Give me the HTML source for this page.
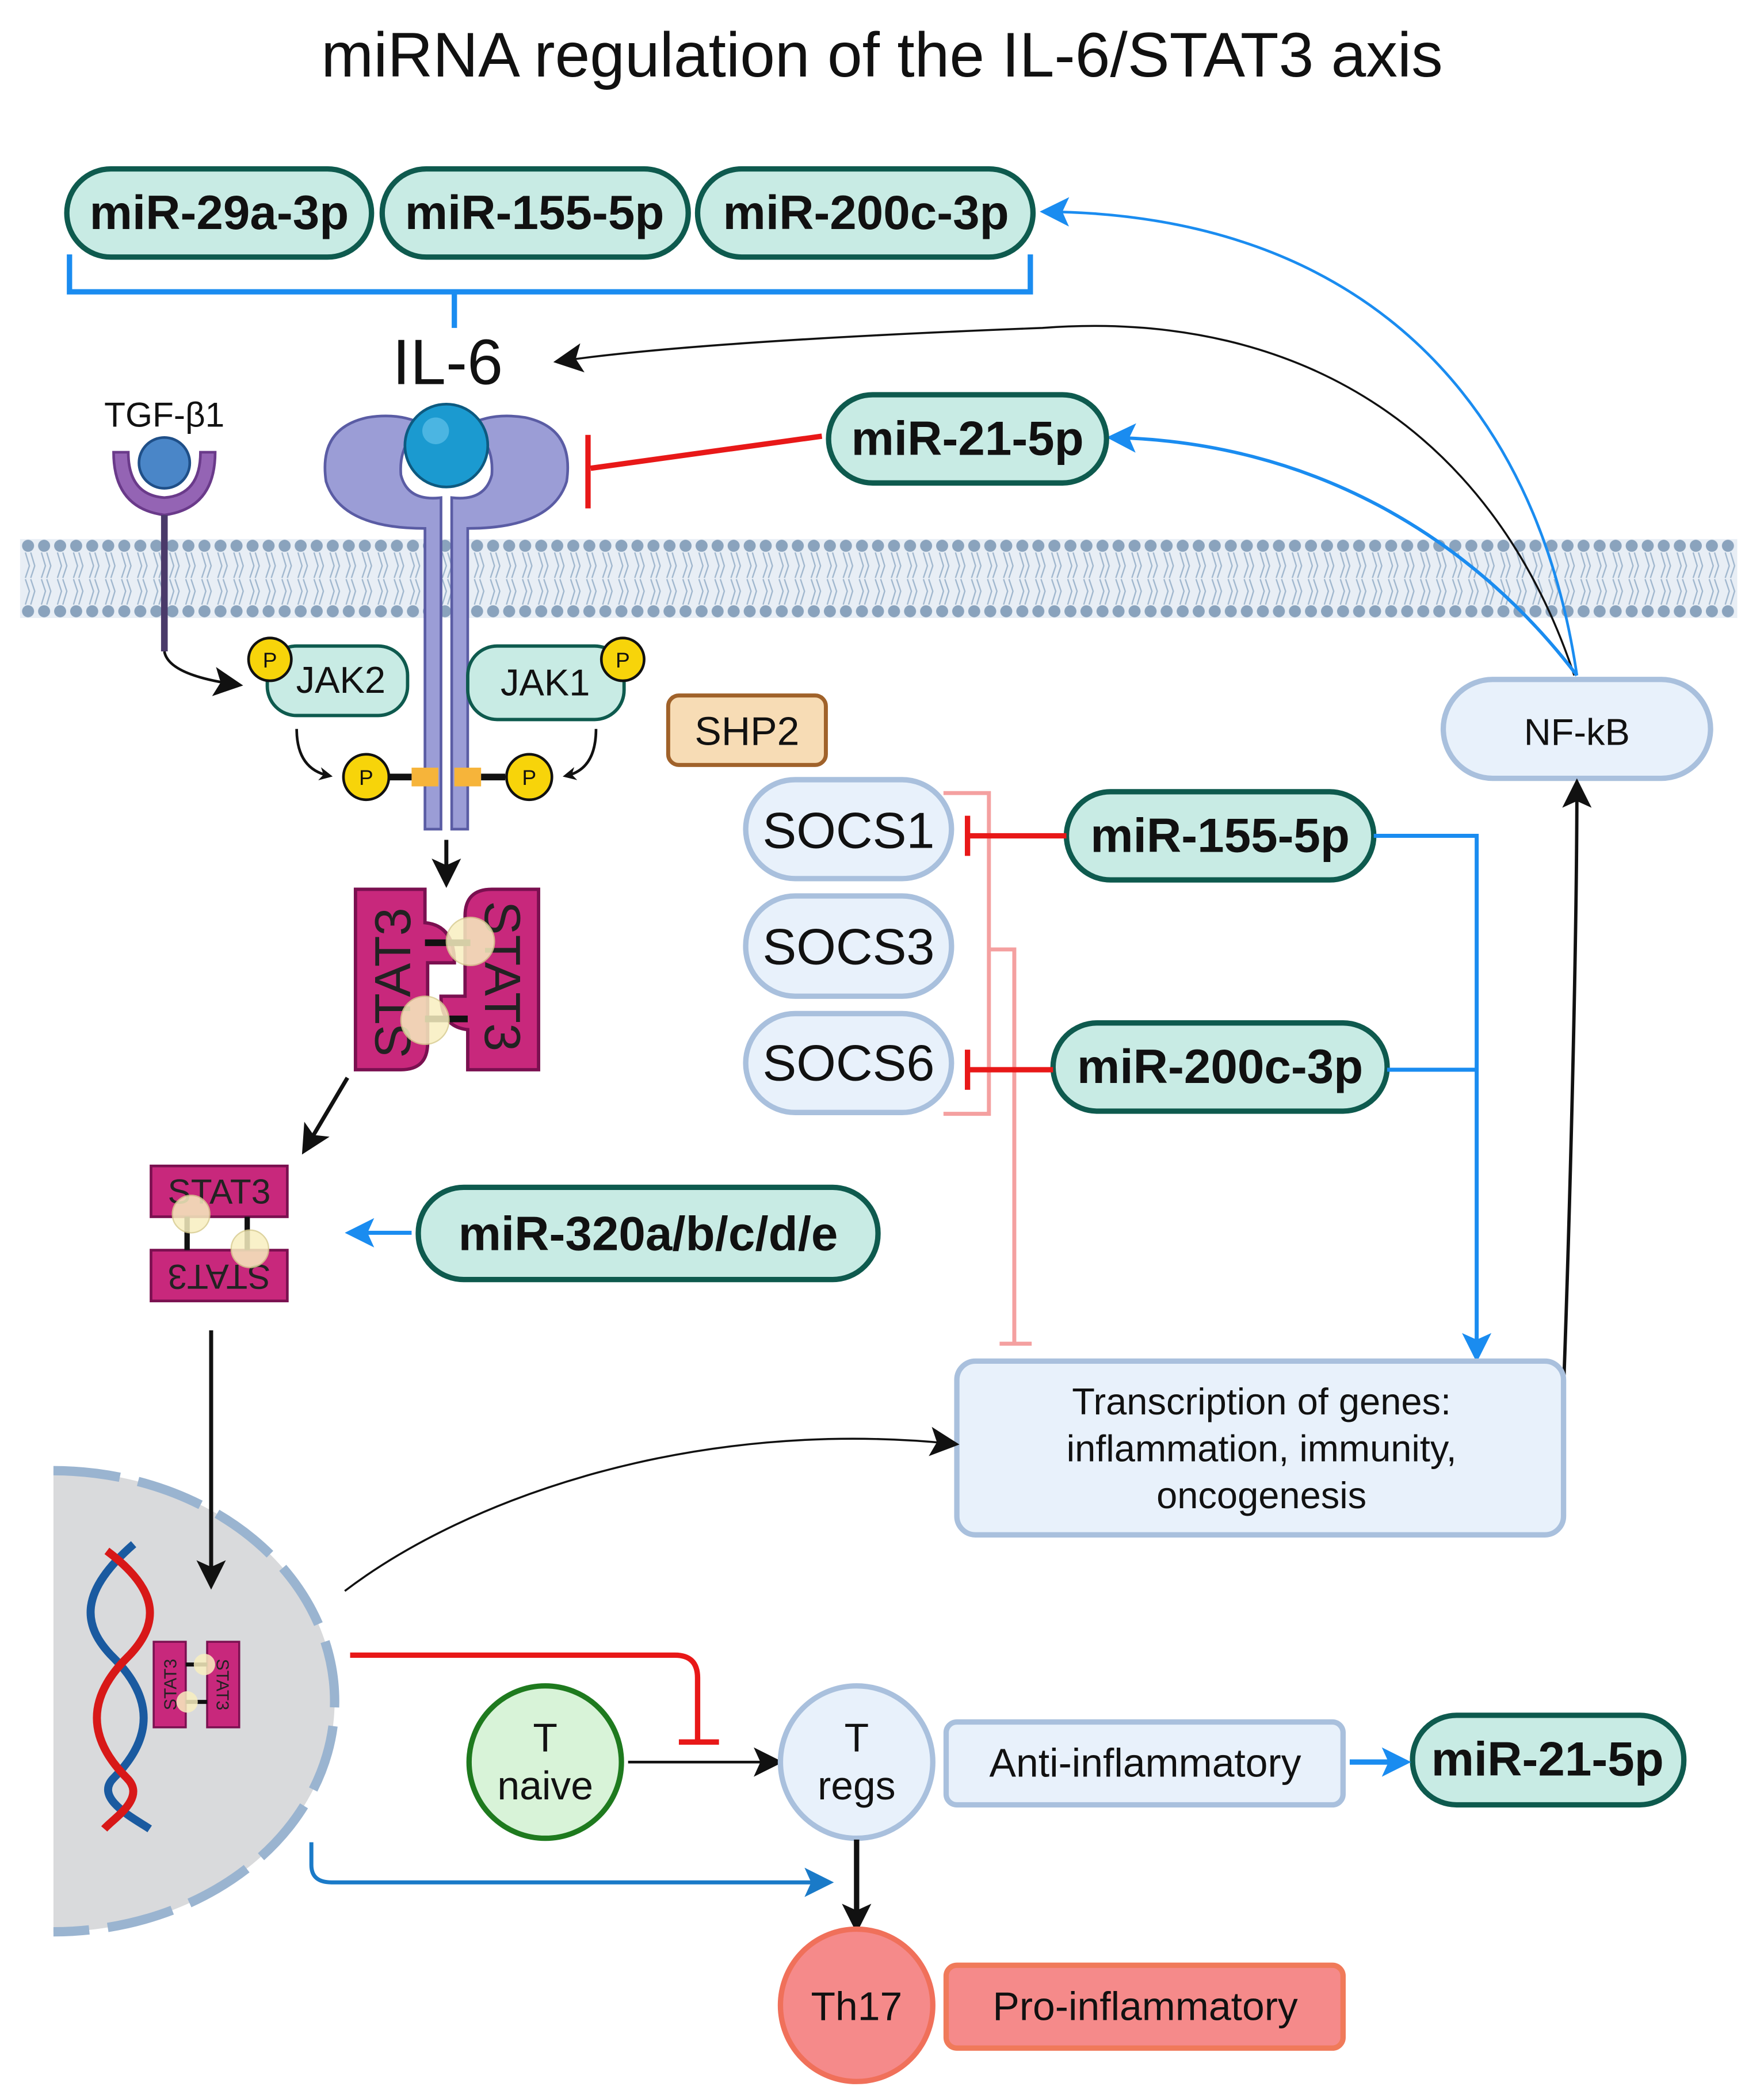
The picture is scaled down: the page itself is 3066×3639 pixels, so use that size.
<!DOCTYPE html>
<html><head><meta charset="utf-8"><style>
html,body{margin:0;padding:0;background:#fff}
svg{display:block}
text{font-family:"Liberation Sans",sans-serif}
</style></head><body>
<svg width="3066" height="3639" viewBox="0 0 1320 1566" xmlns="http://www.w3.org/2000/svg">
<defs>
<marker id="ab" markerWidth="10" markerHeight="10" refX="7" refY="5" orient="auto" markerUnits="userSpaceOnUse"><path d="M0,0 L10,5 L0,10 L3,5z" fill="#111"/></marker>
<marker id="abB" markerWidth="22" markerHeight="22" refX="18" refY="11" orient="auto" markerUnits="userSpaceOnUse"><path d="M0,0 L22,11 L0,22 L5,11z" fill="#111"/></marker>
<marker id="abl" markerWidth="22" markerHeight="22" refX="18" refY="11" orient="auto" markerUnits="userSpaceOnUse"><path d="M0,0 L22,11 L0,22 L5,11z" fill="#1a8cf0"/></marker>
<marker id="abd" markerWidth="22" markerHeight="22" refX="18" refY="11" orient="auto" markerUnits="userSpaceOnUse"><path d="M0,0 L22,11 L0,22 L5,11z" fill="#1a7ac8"/></marker>
<pattern id="mem" x="15" y="403" width="12" height="59" patternUnits="userSpaceOnUse">
<rect width="12" height="59" fill="#e8eef5"/>
<circle cx="6" cy="5" r="4.5" fill="#8aa3bd"/><circle cx="6" cy="54" r="4.5" fill="#8aa3bd"/>
<path d="M4,10 L7,20 L4,29 M8,10 L11,20 L8,29 M4,49 L7,39 L4,30 M8,49 L11,39 L8,30" stroke="#9fb6cd" stroke-width="1" fill="none"/>
</pattern>
</defs>

<text x="660" y="57" font-size="47" text-anchor="middle" fill="#111">miRNA regulation of the IL-6/STAT3 axis</text>

<rect x="15" y="403" width="1285" height="59" fill="url(#mem)"/>

<path d="M1178,505 C1120,330 980,230 780,245 C650,250 500,258 418,270" stroke="#111" stroke-width="1.5" fill="none" marker-end="url(#abB)"/>
<path d="M1180,505 C1150,300 1020,160 782,158" stroke="#1a8cf0" stroke-width="2" fill="none" marker-end="url(#abl)"/>
<path d="M1180,505 C1100,400 980,330 832,327" stroke="#1a8cf0" stroke-width="2.5" fill="none" marker-end="url(#abl)"/>

<g stroke="#0e5a4e" stroke-width="4" fill="#c8ebe4">
<rect x="50" y="126" width="228" height="66" rx="33"/>
<rect x="286" y="126" width="229" height="66" rx="33"/>
<rect x="522" y="126" width="251" height="66" rx="33"/>
<rect x="620" y="295" width="208" height="66" rx="33"/>
<rect x="798" y="592" width="230" height="66" rx="33"/>
<rect x="788" y="765" width="250" height="66" rx="33"/>
<rect x="313" y="888" width="344" height="69" rx="34"/>
<rect x="1057" y="1283" width="203" height="67" rx="33"/>
</g>
<g font-size="36" font-weight="bold" text-anchor="middle" fill="#111">
<text x="164" y="171">miR-29a-3p</text>
<text x="400" y="171">miR-155-5p</text>
<text x="648" y="171">miR-200c-3p</text>
<text x="724" y="340">miR-21-5p</text>
<text x="913" y="637">miR-155-5p</text>
<text x="913" y="810">miR-200c-3p</text>
<text x="485" y="935">miR-320a/b/c/d/e</text>
<text x="1158" y="1328">miR-21-5p</text>
</g>

<path d="M52,190 V218 H771 V190 M340,218 V245" stroke="#1a8cf0" stroke-width="4" fill="none"/>
<text x="335" y="287" font-size="48" text-anchor="middle" fill="#111">IL-6</text>

<path d="M615,326 L442,350" stroke="#e81818" stroke-width="4"/>
<path d="M440,325 V380" stroke="#e81818" stroke-width="4"/>

<text x="123" y="319" font-size="26" text-anchor="middle" fill="#111">TGF-β1</text>
<path d="M85,338 Q85,380 123,385 Q161,380 161,338 L150,338 Q150,370 123,372 Q96,370 96,338Z" fill="#9464b4" stroke="#6a3a8a" stroke-width="2"/>
<circle cx="123" cy="346" r="19" fill="#4a86c8" stroke="#1f4f88" stroke-width="2"/>
<path d="M123,385 V487" stroke="#4a3a6a" stroke-width="5"/>
<path d="M123,487 Q126,505 178,512" stroke="#111" stroke-width="2" fill="none" marker-end="url(#abB)"/>

<path d="M318,620 V395 Q255,395 244,360 Q238,320 275,312 Q300,308 318,318 Q298,330 300,355 Q305,375 330,372 V620Z" fill="#9b9dd6" stroke="#5a5ca4" stroke-width="2"/>
<path d="M350,620 V395 Q413,395 424,360 Q430,320 393,312 Q368,308 350,318 Q370,330 368,355 Q363,375 338,372 V620Z" fill="#9b9dd6" stroke="#5a5ca4" stroke-width="2"/>
<circle cx="334" cy="333" r="31" fill="#1b9ad0" stroke="#0d5a80" stroke-width="2"/>
<circle cx="326" cy="322" r="10" fill="#6cc8ee" opacity="0.6"/>
<rect x="308" y="574" width="20" height="14" fill="#f6b43a"/>
<rect x="340" y="574" width="20" height="14" fill="#f6b43a"/>
<path d="M290,581 H308 M360,581 H378" stroke="#111" stroke-width="5"/>

<rect x="200" y="483" width="105" height="52" rx="22" fill="#c8ebe4" stroke="#0e5a4e" stroke-width="2.5"/>
<text x="255" y="518" font-size="28" text-anchor="middle" fill="#111">JAK2</text>
<rect x="350" y="483" width="117" height="55" rx="22" fill="#c8ebe4" stroke="#0e5a4e" stroke-width="2.5"/>
<text x="408" y="520" font-size="28" text-anchor="middle" fill="#111">JAK1</text>
<g fill="#f7d40a" stroke="#111" stroke-width="2">
<circle cx="202" cy="493" r="16"/><circle cx="466" cy="493" r="16"/>
<circle cx="274" cy="581" r="17"/><circle cx="396" cy="581" r="17"/>
</g>
<g font-size="16" text-anchor="middle" fill="#111">
<text x="202" y="499">P</text><text x="466" y="499">P</text><text x="274" y="587">P</text><text x="396" y="587">P</text>
</g>
<path d="M222,545 Q222,575 246,580" stroke="#111" stroke-width="2" fill="none" marker-end="url(#ab)"/>
<path d="M446,545 Q446,575 424,580" stroke="#111" stroke-width="2" fill="none" marker-end="url(#ab)"/>
<path d="M334,628 V660" stroke="#111" stroke-width="3" marker-end="url(#abB)"/>

<g fill="#c8287c" stroke="#7a1050" stroke-width="2.5">
<path d="M266,665 H318 V690 Q340,692 340,720 L320,720 V780 Q320,800 300,800 H266Z"/>
<path d="M403,665 V800 H350 V770 Q330,768 330,745 L348,745 V685 Q348,665 368,665Z"/>
</g>
<path d="M318,705 H352 M318,762 H350" stroke="#111" stroke-width="5"/>
<text x="294" y="735" font-size="38" text-anchor="middle" fill="#222" transform="rotate(-90 294 735)" dy="13">STAT3</text>
<text x="376" y="730" font-size="38" text-anchor="middle" fill="#222" transform="rotate(90 376 730)" dy="13">STAT3</text>
<circle cx="352" cy="704" r="18" fill="#f8efc0" stroke="#d8cc90" opacity="0.85"/>
<circle cx="318" cy="763" r="18" fill="#f8efc0" stroke="#d8cc90" opacity="0.85"/>
<path d="M260,806 L228,860" stroke="#111" stroke-width="3" marker-end="url(#abB)"/>

<g fill="#c8287c" stroke="#7a1050" stroke-width="2">
<rect x="113" y="872" width="102" height="38"/>
<rect x="113" y="935" width="102" height="38"/>
</g>
<path d="M140,910 V935 M185,910 V935" stroke="#111" stroke-width="4"/>
<text x="164" y="900" font-size="26" text-anchor="middle" fill="#222">STAT3</text>
<text x="164" y="964" font-size="26" text-anchor="middle" fill="#222" transform="rotate(180 164 955)">STAT3</text>
<circle cx="143" cy="908" r="14" fill="#f8efc0" stroke="#d8cc90" opacity="0.85"/>
<circle cx="187" cy="934" r="14" fill="#f8efc0" stroke="#d8cc90" opacity="0.85"/>
<path d="M308,922 H262" stroke="#1a8cf0" stroke-width="3" marker-end="url(#abl)"/>

<rect x="500" y="520" width="118" height="52" rx="8" fill="#f7dcb5" stroke="#a0622a" stroke-width="3"/>
<text x="559" y="557" font-size="30" text-anchor="middle" fill="#111">SHP2</text>

<g fill="#e8f1fb" stroke="#a9c0dd" stroke-width="4">
<rect x="558" y="583" width="154" height="74" rx="37"/>
<rect x="558" y="670" width="154" height="75" rx="37"/>
<rect x="558" y="758" width="154" height="74" rx="37"/>
</g>
<g font-size="38" text-anchor="middle" fill="#111">
<text x="635" y="634">SOCS1</text><text x="635" y="721">SOCS3</text><text x="635" y="808">SOCS6</text>
</g>
<path d="M706,593 H740 V833 H706" stroke="#f4a0a0" stroke-width="3" fill="none"/>
<path d="M740,710 H759 V1005 M748,1005 H772" stroke="#f4a0a0" stroke-width="3" fill="none"/>
<path d="M798,625 H724 M724,610 V640" stroke="#e81818" stroke-width="4"/>
<path d="M788,800 H724 M724,785 V815" stroke="#e81818" stroke-width="4"/>
<path d="M1038,800 H1105" stroke="#1a8cf0" stroke-width="3" fill="none"/>
<path d="M1028,625 H1105 V1015" stroke="#1a8cf0" stroke-width="3" fill="none" marker-end="url(#abl)"/>

<rect x="1080" y="508" width="200" height="74" rx="37" fill="#e8f1fb" stroke="#a9c0dd" stroke-width="4"/>
<text x="1180" y="557" font-size="28" text-anchor="middle" fill="#111">NF-kB</text>
<path d="M1170,1040 C1175,900 1180,700 1180,586" stroke="#111" stroke-width="2.5" fill="none" marker-end="url(#abB)"/>

<rect x="716" y="1018" width="454" height="130" rx="14" fill="#e8f1fb" stroke="#a9c0dd" stroke-width="4"/>
<g font-size="28" text-anchor="middle" fill="#111">
<text x="944" y="1058">Transcription of genes:</text>
<text x="944" y="1093">inflammation, immunity,</text>
<text x="944" y="1128">oncogenesis</text>
</g>
<path d="M258,1190 C350,1120 520,1060 714,1080" stroke="#111" stroke-width="1.5" fill="none" marker-end="url(#abB)"/>

<!-- nucleus -->
<path d="M40,1100 A210,172 0 0 1 40,1445 Z" fill="#d9dadc"/>
<path d="M40,1100 A210,172 0 0 1 40,1445" stroke="#9ab4d0" stroke-width="7" fill="none" stroke-dasharray="50,14"/>
<path d="M100,1155 C60,1190 60,1215 85,1240 C115,1270 115,1300 85,1330 C70,1345 100,1360 112,1368" stroke="#1a5aa0" stroke-width="6" fill="none"/>
<path d="M80,1160 C120,1190 120,1215 95,1240 C65,1270 65,1300 95,1330 C110,1345 85,1360 78,1368" stroke="#d81818" stroke-width="6" fill="none"/>
<g fill="#c8287c" stroke="#7a1050" stroke-width="1.5">
<rect x="115" y="1228" width="24" height="64"/><rect x="155" y="1228" width="24" height="64"/>
</g>
<path d="M139,1245 H155 M139,1273 H155" stroke="#111" stroke-width="3"/>
<text x="127" y="1260" font-size="13" text-anchor="middle" fill="#222" transform="rotate(-90 127 1260)" dy="5">STAT3</text>
<text x="167" y="1260" font-size="13" text-anchor="middle" fill="#222" transform="rotate(90 167 1260)" dy="5">STAT3</text>
<circle cx="153" cy="1245" r="8" fill="#f8efc0" opacity="0.85"/><circle cx="140" cy="1273" r="8" fill="#f8efc0" opacity="0.85"/>
<path d="M158,995 V1185" stroke="#111" stroke-width="3" marker-end="url(#abB)"/>

<path d="M262,1238 H505 Q522,1238 522,1255 V1303 M508,1303 H538" stroke="#e81818" stroke-width="4" fill="none"/>
<path d="M470,1318 H582" stroke="#111" stroke-width="2" marker-end="url(#abB)"/>
<path d="M233,1378 V1395 Q233,1408 248,1408 H620" stroke="#1a7ac8" stroke-width="3" fill="none" marker-end="url(#abd)"/>
<circle cx="408" cy="1318" r="57" fill="#d8f3d8" stroke="#1e7a1e" stroke-width="4"/>
<text x="408" y="1310" font-size="30" text-anchor="middle" fill="#111">T</text>
<text x="408" y="1346" font-size="30" text-anchor="middle" fill="#111">naive</text>
<circle cx="641" cy="1318" r="57" fill="#e8f1fb" stroke="#a9c0dd" stroke-width="4"/>
<text x="641" y="1310" font-size="30" text-anchor="middle" fill="#111">T</text>
<text x="641" y="1346" font-size="30" text-anchor="middle" fill="#111">regs</text>
<path d="M641,1376 V1442" stroke="#111" stroke-width="4" marker-end="url(#abB)"/>
<rect x="708" y="1288" width="297" height="62" rx="8" fill="#e8f1fb" stroke="#a9c0dd" stroke-width="4"/>
<text x="857" y="1329" font-size="30" text-anchor="middle" fill="#111">Anti-inflammatory</text>
<path d="M1010,1318 H1052" stroke="#1a8cf0" stroke-width="4" marker-end="url(#abl)"/>
<circle cx="641" cy="1500" r="57" fill="#f58a8a" stroke="#f0705a" stroke-width="4"/>
<text x="641" y="1511" font-size="30" text-anchor="middle" fill="#111">Th17</text>
<rect x="708" y="1470" width="297" height="62" rx="8" fill="#f58a8a" stroke="#f07a5a" stroke-width="4"/>
<text x="857" y="1511" font-size="30" text-anchor="middle" fill="#111">Pro-inflammatory</text>
</svg>
</body></html>
